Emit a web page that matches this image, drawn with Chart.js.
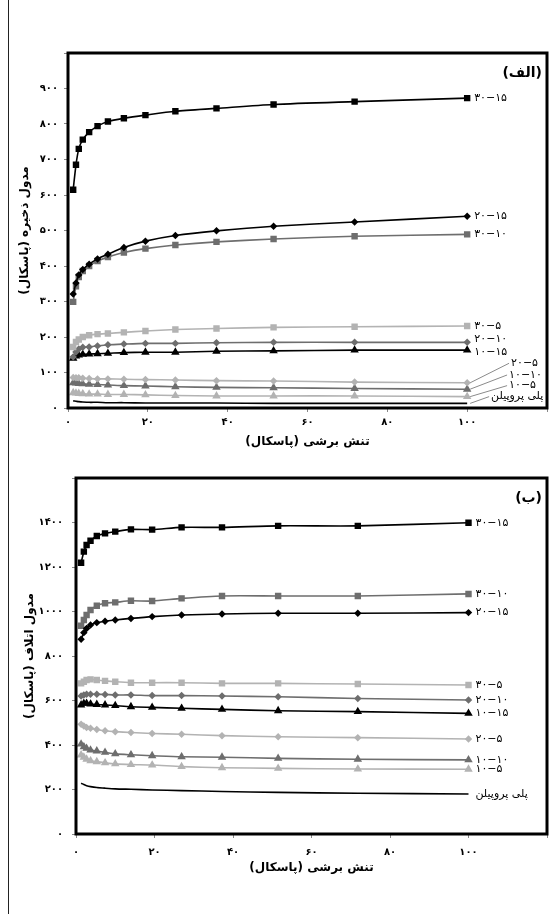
<!DOCTYPE html>
<html lang="fa">
<head>
<meta charset="utf-8">
<title>مدول ذخیره و مدول اتلاف</title>
<script src="https://cdn.jsdelivr.net/npm/chart.js@4.4.1/dist/chart.umd.min.js"></script>
<style>
  html, body { margin: 0; padding: 0; background: #fff; }
  body { width: 560px; height: 914px; position: relative; overflow: hidden; }
  #frame { position: absolute; left: 8px; top: 0; height: 914px; border-left: 1px solid #222; }
  #top-chart { position: absolute; left: 0; top: 0; }
  #bottom-chart { position: absolute; left: 0; top: 460px; }
</style>
</head>
<body>
<div id="frame"></div>
<canvas id="top-chart" width="560" height="460"></canvas>
<canvas id="bottom-chart" width="560" height="454"></canvas>
<script>
// --- data ---
const faDigits = ["۰", "۱", "۲", "۳", "۴", "۵", "۶", "۷", "۸", "۹"];
const shearStress = [1.3, 2.0, 2.7, 3.7, 5.3, 7.4, 10, 14, 19.4, 26.9, 37.2, 51.5, 71.8, 100];
const seriesNames = ["۳۰−۱۵", "۲۰−۱۵", "۳۰−۱۰", "۳۰−۵", "۲۰−۱۰", "۱۰−۱۵", "۲۰−۵", "۱۰−۱۰", "۱۰−۵", "پلی پروپیلن"];

// (الف) storage modulus
const storage30_15 = [615, 685, 730, 756, 777, 794, 807, 816, 825, 836, 844, 855, 863, 873];
const storage20_15 = [321, 352, 375, 390, 405, 420, 433, 452, 470, 486, 499, 512, 524, 540];
const storage30_10 = [299, 343, 369, 386, 400, 414, 425, 438, 449, 459, 468, 476, 484, 489];
const storage30_5 = [172, 186, 193, 200, 205, 208, 210, 213, 217, 221, 224, 227, 229, 231];
const storage20_10 = [144, 158, 166, 171, 172, 175, 178, 180, 182, 182, 184, 185, 185, 185];
const storage10_15 = [140, 146, 149, 151, 152, 153, 154, 156, 157, 157, 160, 161, 163, 163];
const storage20_5 = [86, 85, 85, 84, 83, 82, 82, 81, 80, 79, 77, 76, 73, 71];
const storage10_10 = [71, 70, 69, 68, 67, 66, 65, 63, 62, 60, 58, 57, 55, 53];
const storage10_5 = [43, 42, 41, 40, 39, 39, 38, 38, 37, 35, 34, 34, 34, 32];
const storagePP = [20, 19, 18, 17, 16, 16, 15, 15, 14, 14, 14, 13, 13, 13];

// (ب) loss modulus
const loss30_15 = [1219, 1269, 1299, 1318, 1339, 1351, 1359, 1369, 1368, 1378, 1378, 1385, 1385, 1399];
const loss20_15 = [875, 905, 924, 939, 950, 956, 962, 969, 977, 984, 989, 992, 992, 995];
const loss30_10 = [936, 962, 984, 1007, 1026, 1037, 1041, 1048, 1047, 1059, 1070, 1070, 1070, 1079];
const loss30_5 = [677, 684, 692, 695, 692, 688, 684, 680, 680, 680, 677, 677, 674, 670];
const loss20_10 = [620, 625, 628, 628, 628, 627, 625, 625, 622, 622, 620, 617, 609, 602];
const loss10_15 = [580, 587, 587, 584, 582, 580, 577, 572, 569, 565, 560, 554, 550, 542];
const loss20_5 = [493, 485, 479, 475, 470, 464, 460, 456, 452, 448, 442, 437, 433, 427];
const loss10_10 = [404, 392, 385, 377, 373, 367, 360, 356, 352, 347, 345, 340, 336, 333];
const loss10_5 = [355, 345, 336, 329, 325, 320, 315, 312, 310, 303, 298, 295, 292, 291];
const lossPP = [228, 222, 217, 213, 209, 206, 203, 201, 198, 195, 191, 187, 183, 180];

// label spots [x, y, leader line?] in data units for the crowded series of panel (الف)
const topLabelSpots = [null, null, null, null, [101.8, 193, false], [101.8, 157, false],
                       [111, 126, true], [110.5, 93, true], [110.5, 63, true], [106, 32, true]];

// --- looks ---
const seriesLooks = [
  { color: "#000", marker: "rect", size: 3.4 },
  { color: "#000", marker: "rectRot", size: 2.6 },
  { color: "#6e6e6e", marker: "rect", size: 3.4 },
  { color: "#b3b3b3", marker: "rect", size: 3.4 },
  { color: "#6e6e6e", marker: "rectRot", size: 2.6 },
  { color: "#000", marker: "triangle", size: 3.3 },
  { color: "#b3b3b3", marker: "rectRot", size: 2.6 },
  { color: "#6e6e6e", marker: "triangle", size: 3.3 },
  { color: "#b3b3b3", marker: "triangle", size: 3.3 },
  { color: "#000", marker: false, size: 0 },
];

Chart.defaults.font.family = "'DejaVu Sans', sans-serif";
Chart.defaults.color = "#000";

function toFa(n) {
  return String(n).replace(/\d/g, (d) => faDigits[d]);
}

function buildDatasets(seriesList) {
  return seriesList.map((values, i) => ({
    label: seriesNames[i],
    data: values.map((v, k) => ({ x: shearStress[k], y: v })),
    borderColor: seriesLooks[i].color,
    backgroundColor: seriesLooks[i].color,
    pointStyle: seriesLooks[i].marker,
    pointRadius: seriesLooks[i].size,
    borderWidth: 1.6,
    tension: 0.25,
  }));
}

// thick box, panel tag and end-of-line labels
const panelDecor = {
  id: "panelDecor",
  afterDatasetsDraw(chart, args, opts) {
    const { ctx, chartArea: a, scales } = chart;
    ctx.save();
    ctx.lineWidth = 3;
    ctx.strokeStyle = "#000";
    ctx.strokeRect(a.left, a.top, a.width, a.height);

    ctx.fillStyle = "#000";
    ctx.font = "bold 14px 'DejaVu Sans'";
    ctx.textAlign = "right";
    ctx.textBaseline = "middle";
    ctx.fillText(opts.tag, a.right - 5, a.top + 20);

    ctx.font = "11px 'DejaVu Sans'";
    ctx.textAlign = "left";
    chart.data.datasets.forEach((ds, i) => {
      const pts = chart.getDatasetMeta(i).data;
      const last = pts[pts.length - 1];
      const spot = opts.spots ? opts.spots[i] : null;
      if (spot) {
        const sx = scales.x.getPixelForValue(spot[0]);
        const sy = scales.y.getPixelForValue(spot[1]);
        if (spot[2]) {
          ctx.strokeStyle = "#8a8a8a";
          ctx.lineWidth = 1;
          ctx.beginPath();
          ctx.moveTo(last.x + 3, last.y);
          ctx.lineTo(sx - 2, sy);
          ctx.stroke();
        }
        ctx.fillText(ds.label, sx, sy);
      } else {
        ctx.fillText(ds.label, last.x + 7, last.y);
      }
    });
    ctx.restore();
  },
};

function makeChart(canvasId, cfg) {
  return new Chart(document.getElementById(canvasId), {
    type: "line",
    data: { datasets: buildDatasets(cfg.series) },
    plugins: [panelDecor],
    options: {
      responsive: false,
      animation: false,
      layout: { padding: { top: cfg.areaTop, right: 13, bottom: 0, left: 0 } },
      scales: {
        x: {
          type: "linear",
          min: 0,
          max: 120,
          afterFit: (s) => { s.height = cfg.xAxisHeight; },
          ticks: {
            stepSize: 20,
            padding: cfg.xTickPad,
            font: { size: 10, weight: "bold" },
            callback: (v) => (v <= 100 ? toFa(v) : ""),
          },
          grid: { drawOnChartArea: false, tickLength: 4, color: "#888" },
          border: { display: false },
          title: {
            display: true,
            text: "تنش برشی (پاسکال)",
            font: { size: 12, weight: "bold" },
            padding: { top: 0, bottom: cfg.xTitlePad },
          },
        },
        y: {
          min: 0,
          max: cfg.yMax,
          afterFit: (s) => { s.width = cfg.yAxisWidth; },
          ticks: {
            stepSize: cfg.yStep,
            padding: cfg.yTickPad,
            font: { size: 10, weight: "bold" },
            callback: (v) => (v < cfg.yMax ? toFa(v) : ""),
          },
          grid: { drawOnChartArea: false, tickLength: 4, color: "#888" },
          border: { display: false },
          title: {
            display: true,
            text: cfg.yTitle,
            font: { size: 12, weight: "bold" },
            padding: { top: cfg.yTitlePad, bottom: 0 },
          },
        },
      },
      plugins: {
        legend: { display: false },
        tooltip: { enabled: false },
        panelDecor: { tag: cfg.tag, spots: cfg.spots },
      },
    },
  });
}

makeChart("top-chart", {
  series: [storage30_15, storage20_15, storage30_10, storage30_5, storage20_10,
           storage10_15, storage20_5, storage10_10, storage10_5, storagePP],
  tag: "(الف)",
  spots: topLabelSpots,
  yTitle: "مدول ذخیره (پاسکال)",
  yMax: 1000,
  yStep: 100,
  areaTop: 53,
  yAxisWidth: 68,
  xAxisHeight: 52,
  xTickPad: 4,
  xTitlePad: 11,
  yTickPad: 6,
  yTitlePad: 18,
});

makeChart("bottom-chart", {
  series: [loss30_15, loss20_15, loss30_10, loss30_5, loss20_10,
           loss10_15, loss20_5, loss10_10, loss10_5, lossPP],
  tag: "(ب)",
  spots: null,
  yTitle: "مدول اتلاف (پاسکال)",
  yMax: 1600,
  yStep: 200,
  areaTop: 18,
  yAxisWidth: 76,
  xAxisHeight: 80,
  xTickPad: 8,
  xTitlePad: 39,
  yTickPad: 9,
  yTitlePad: 23,
});
</script>
</body>
</html>
